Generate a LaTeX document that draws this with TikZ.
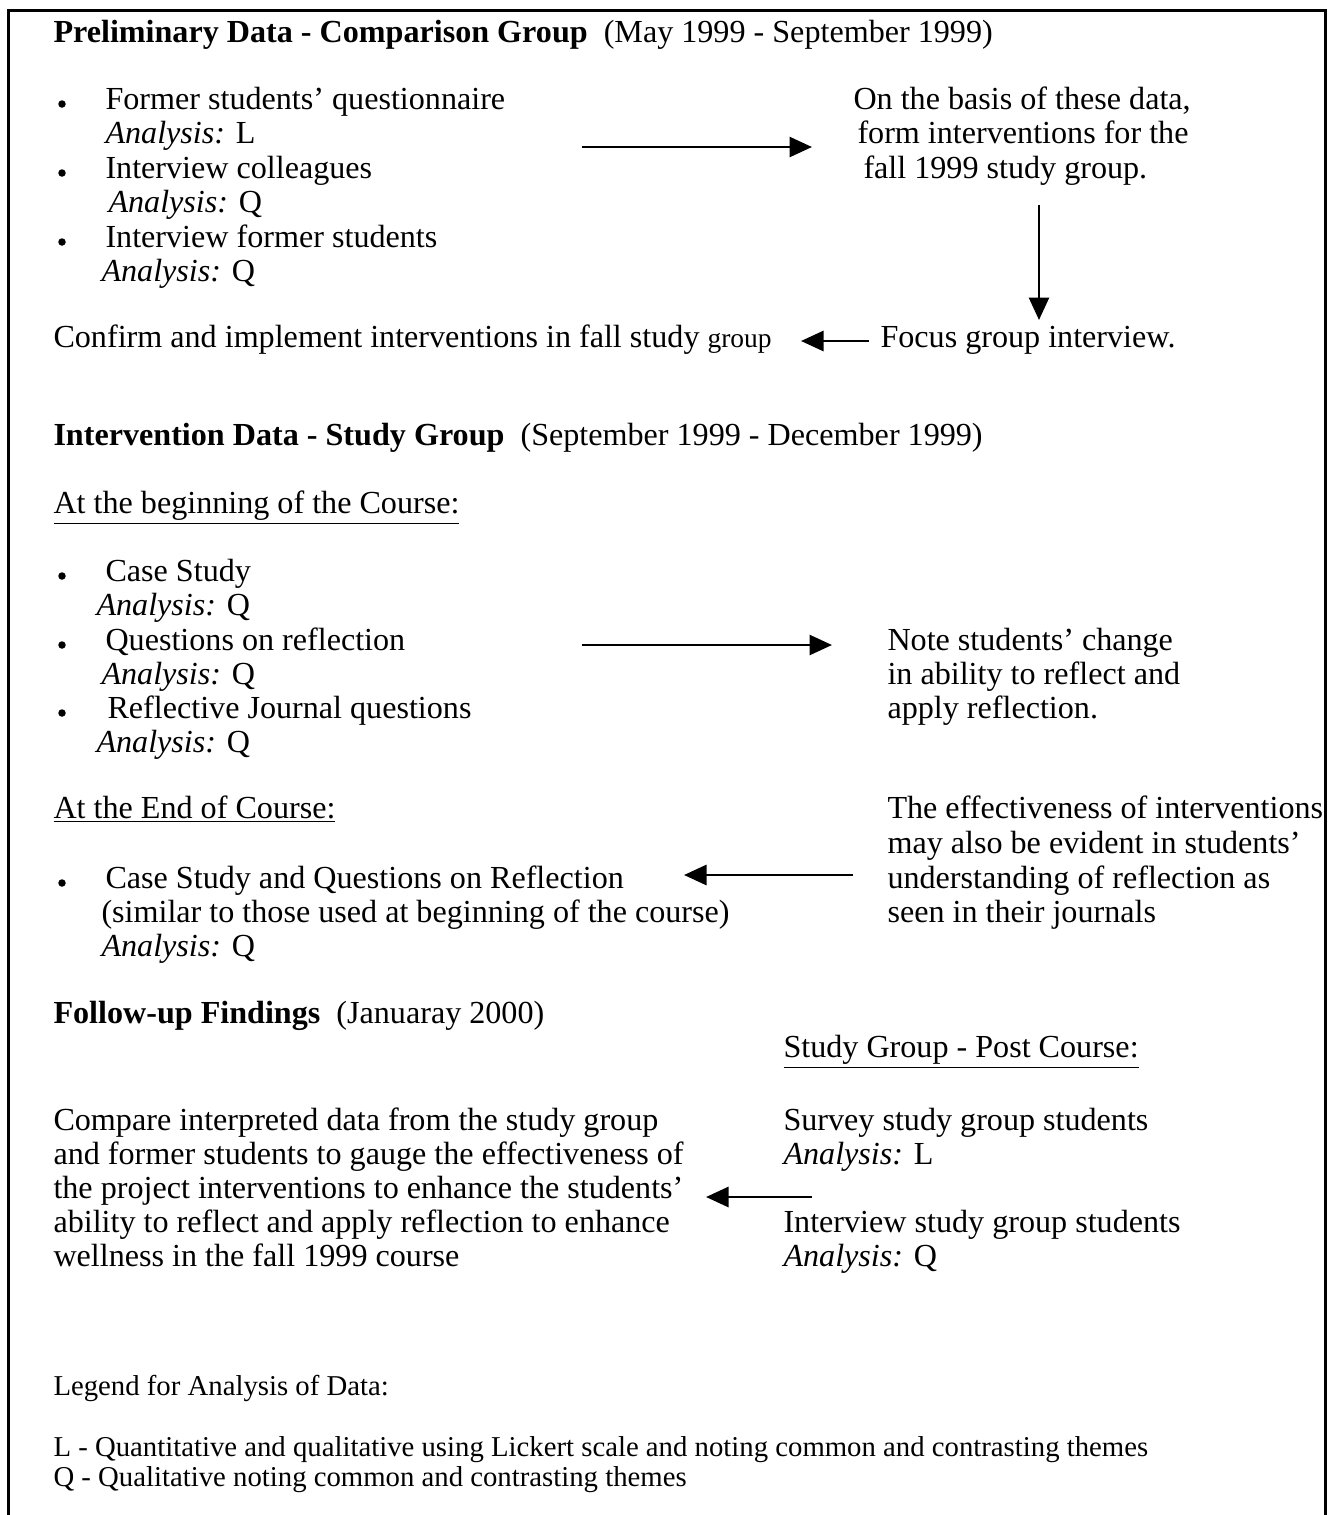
\documentclass[tikz,border=0pt]{standalone}
\usepackage{fontspec}
\setmainfont{Liberation Serif}
\usetikzlibrary{arrows.meta}

\tikzset{
  txt/.style={anchor=base west,inner sep=0pt,font=\fontsize{12.85}{15}\selectfont},
  legend/.style={anchor=base west,inner sep=0pt,font=\fontsize{11.5}{13}\selectfont},
  dot/.style={circle,fill=black,inner sep=0pt,minimum size=3pt},
  flow/.style={line width=1.1pt,-{Triangle[length=9pt,width=8pt]}}
}

\begin{document}
\begin{tikzpicture}[x=0.4pt,y=-0.4pt]
\useasboundingbox (0,0) rectangle (1337,1515);
\draw[line width=1.2pt] (8,1515) -- (8,10) -- (1325,10) -- (1325,1515);

\node[txt] (prelim) at (53,42) {\textbf{Preliminary Data - Comparison Group}\ \ (May 1999 - September 1999)};

\node[dot] (b1) at (62,104) {};
\node[txt] (fq) at (105,109) {Former students' questionnaire};
\node[txt] (fqa) at (105,143) {\textit{Analysis:} L};
\node[dot] (b2) at (62,173) {};
\node[txt] (ic) at (105,178) {Interview colleagues};
\node[txt] (ica) at (108,212) {\textit{Analysis:} Q};
\node[dot] (b3) at (62,242) {};
\node[txt] (ifs) at (105,247) {Interview former students};
\node[txt] (ifsa) at (101,281) {\textit{Analysis:} Q};

\node[txt] (basis1) at (853,109) {On the basis of these data,};
\node[txt] (basis2) at (857,143) {form interventions for the};
\node[txt] (basis3) at (863,178) {fall 1999 study group.};

\node[txt] (confirm) at (53,347) {Confirm and implement interventions in fall study {\fontsize{11}{13}\selectfont group}};
\node[txt] (focus) at (880,347) {Focus group interview.};

\coordinate (a1s) at (582,147);
\coordinate (a1e) at (812,147);
\draw[flow] (a1s) -- (a1e);
\coordinate (a2s) at (1039,205);
\coordinate (a2e) at (1039,320);
\draw[flow] (a2s) -- (a2e);
\coordinate (a3s) at (869,341);
\coordinate (a3e) at (801,341);
\draw[flow] (a3s) -- (a3e);

\node[txt] (interv) at (53,445) {\textbf{Intervention Data - Study Group}\ \ (September 1999 - December 1999)};
\node[txt] (begin) at (53,513) {\underline{At the beginning of the Course:}};

\node[dot] (b4) at (62,576) {};
\node[txt] (cs) at (105,581) {Case Study};
\node[txt] (csa) at (96,615) {\textit{Analysis:} Q};
\node[dot] (b5) at (62,645) {};
\node[txt] (qr) at (105,650) {Questions on reflection};
\node[txt] (qra) at (101,684) {\textit{Analysis:} Q};
\node[dot] (b6) at (62,713) {};
\node[txt] (rj) at (107,718) {Reflective Journal questions};
\node[txt] (rja) at (96,752) {\textit{Analysis:} Q};

\node[txt] (note1) at (887,650) {Note students' change};
\node[txt] (note2) at (887,684) {in ability to reflect and};
\node[txt] (note3) at (887,718) {apply reflection.};

\coordinate (a4s) at (582,645);
\coordinate (a4e) at (832,645);
\draw[flow] (a4s) -- (a4e);

\node[txt] (end) at (53,818) {\underline{At the End of Course:}};
\node[dot] (b7) at (62,883) {};
\node[txt] (csq) at (105,888) {Case Study and Questions on Reflection};
\node[txt] (sim) at (101,922) {(similar to those used at beginning of the course)};
\node[txt] (sima) at (101,956) {\textit{Analysis:} Q};

\node[txt] (eff1) at (887,818) {The effectiveness of interventions};
\node[txt] (eff2) at (887,853) {may also be evident in students'};
\node[txt] (eff3) at (887,888) {understanding of reflection as};
\node[txt] (eff4) at (887,922) {seen in their journals};

\coordinate (a5s) at (853,875);
\coordinate (a5e) at (684,875);
\draw[flow] (a5s) -- (a5e);

\node[txt] (follow) at (53,1023) {\textbf{Follow-up Findings}\ \ (Januaray 2000)};
\node[txt] (post) at (783,1057) {\underline{Study Group - Post Course:}};

\node[txt] (cmp1) at (53,1130) {Compare interpreted data from the study group};
\node[txt] (cmp2) at (53,1164) {and former students to gauge the effectiveness of};
\node[txt] (cmp3) at (53,1198) {the project interventions to enhance the students'};
\node[txt] (cmp4) at (53,1232) {ability to reflect and apply reflection to enhance};
\node[txt] (cmp5) at (53,1266) {wellness in the fall 1999 course};

\node[txt] (svy) at (783,1130) {Survey study group students};
\node[txt] (svya) at (783,1164) {\textit{Analysis:} L};
\node[txt] (isg) at (783,1232) {Interview study group students};
\node[txt] (isga) at (783,1266) {\textit{Analysis:} Q};

\coordinate (a6s) at (812,1197);
\coordinate (a6e) at (706,1197);
\draw[flow] (a6s) -- (a6e);

\node[legend] (leg) at (53,1395) {Legend for Analysis of Data:};
\node[legend] (legl) at (53,1456) {L - Quantitative and qualitative using Lickert scale and noting common and contrasting themes};
\node[legend] (legq) at (53,1486) {Q - Qualitative noting common and contrasting themes};
\end{tikzpicture}
\end{document}
